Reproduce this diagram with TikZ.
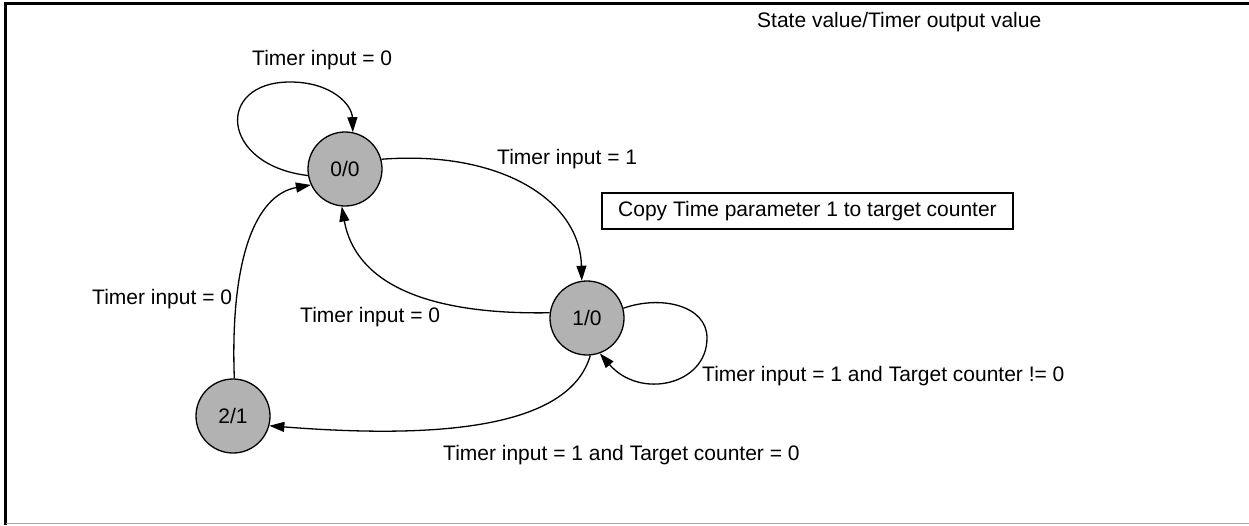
\documentclass[tikz,border=0pt]{standalone}
\usepackage{fontspec}
\setmainfont{Liberation Sans}
\usetikzlibrary{arrows.meta}
\tikzset{
  state/.style={circle, draw=black, line width=1.3pt, fill=stategray, minimum size=74pt, inner sep=0pt, font=\fontsize{21}{25}\selectfont},
  lbl/.style={anchor=base west, inner sep=0pt, font=\fontsize{21}{25}\selectfont},
  edge/.style={line width=1.3pt, -{Triangle[length=15pt, width=10pt]}},
}
\definecolor{stategray}{gray}{0.70}
\begin{document}
\begin{tikzpicture}[x=1pt, y=-1pt]
\useasboundingbox (0,0) rectangle (1249,525);
% frame
\draw[line width=3pt, black] (5.5,525) -- (5.5,3) -- (1249,3);
\draw[line width=1.2pt, gray!70] (5.5,523.5) -- (1249,523.5);
% states
\node[state] (s0) at (345,169) {0/0};
\node[state] (s1) at (587,318) {1/0};
\node[state] (s2) at (233,416) {2/1};
% labels
\node[lbl] (t0) at (252,65.5) {Timer input = 0};
\node[lbl] (tsv) at (757,27) {State value/Timer output value};
\node[lbl] (t1) at (497,164) {Timer input = 1};
\node[lbl] (tl) at (92,304) {Timer input = 0};
\node[lbl] (tm) at (300,322) {Timer input = 0};
\node[lbl] (tne) at (702,381) {Timer input = 1 and Target counter != 0};
\node[lbl] (teq) at (443,460) {Timer input = 1 and Target counter = 0};
\node[draw, line width=1.3pt, minimum width=411pt, minimum height=36pt, inner sep=0pt, font=\fontsize{21}{25}\selectfont] (copy) at (807.5,211) {Copy Time parameter 1 to target counter};
% edges
\draw[edge] (s0.190) .. controls (220,165) and (215,82) .. (290,82) .. controls (332,82) and (352,105) .. (s0.78);
\draw[edge] (s0.15) .. controls (500,150) and (580,200) .. (s1.98);
\draw[edge] (s1.172) .. controls (420,315) and (355,280) .. (s0.265);
\draw[edge] (s2.88) .. controls (230,260) and (255,195) .. (s0.205);
\draw[edge] (s1.15) .. controls (660,295) and (707,305) .. (707,338) .. controls (707,385) and (640,400) .. (s1.-70);
\draw[edge] (s1.-85) .. controls (570,425) and (450,440) .. (s2.-15);
\end{tikzpicture}
\end{document}
